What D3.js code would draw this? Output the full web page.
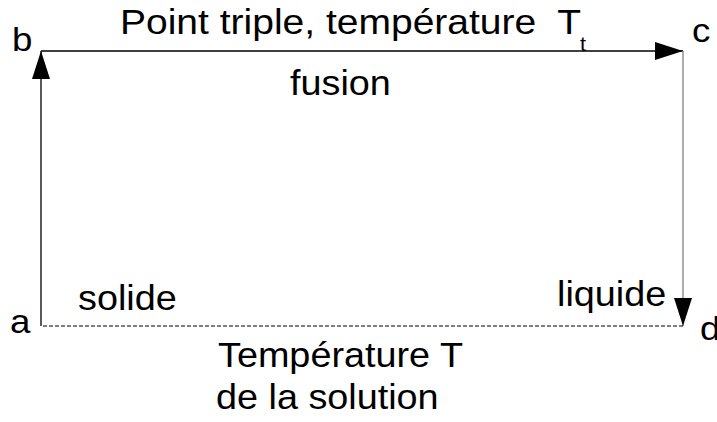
<!DOCTYPE html>
<html>
<head>
<meta charset="utf-8">
<script src="https://cdn.jsdelivr.net/npm/d3@7"></script>
<style>
  body { margin: 0; background: #fff; }
  svg { display: block; }
  svg text { font-family: "Liberation Sans", Arial, sans-serif; fill: #000; white-space: pre; }
</style>
</head>
<body>
<div id="chart"></div>
<script>
// Corners of the cycle (abstract coords: T axis, state axis)
const cornerNames = ['a', 'b', 'c', 'd'];
const cornerX = [0, 0, 1, 1];
const cornerY = [0, 1, 1, 0];

// Segments of the cycle, by corner index
const segFrom = [0, 1, 2, 3];
const segTo = [1, 2, 3, 0];
const segKind = ['arrow', 'arrow', 'arrow', 'dashed'];
const segColor = ['#000', '#000', '#808080', '#000'];

// Texts
const topLabel = 'Point triple, température  T';
const topSub = 't';
const middleLabel = 'fusion';
const leftLabel = 'solide';
const rightLabel = 'liquide';
const bottomLabel = ['Température T', 'de la solution'];

const width = 717, height = 422;

const svg = d3.select('#chart').append('svg')
    .attr('width', width)
    .attr('height', height);

const x = d3.scaleLinear().domain([0, 1]).range([41, 683]);
const y = d3.scaleLinear().domain([0, 1]).range([326, 51]);

// arrowhead
svg.append('defs').append('marker')
    .attr('id', 'head')
    .attr('viewBox', '0 0 28 18')
    .attr('refX', 28)
    .attr('refY', 9)
    .attr('markerWidth', 28)
    .attr('markerHeight', 18)
    .attr('markerUnits', 'userSpaceOnUse')
    .attr('orient', 'auto')
    .append('path')
    .attr('d', 'M0,0 L28,9 L0,18 Z')
    .attr('fill', '#000');

segFrom.forEach((f, i) => {
    const t = segTo[i];
    const line = svg.append('line')
        .attr('x1', x(cornerX[f]))
        .attr('y1', y(cornerY[f]))
        .attr('x2', x(cornerX[t]))
        .attr('y2', y(cornerY[t]))
        .attr('stroke', segColor[i])
        .attr('stroke-width', 1.3);
    if (segKind[i] === 'arrow') {
        line.attr('marker-end', 'url(#head)');
    } else {
        line.attr('stroke-dasharray', '4,2').attr('stroke-width', 1.2);
    }
});

// text slightly stretched horizontally, like the original drawing
function label(tx, ty, size, s, sx = 1.08) {
    return svg.append('text')
        .attr('transform', `translate(${tx},${ty}) scale(${sx},1)`)
        .attr('font-size', size)
        .text(s);
}

// corner letters
const letterPos = [[10, 333], [12, 51], [692, 42], [700, 340]];
cornerNames.forEach((n, i) => {
    label(letterPos[i][0], letterPos[i][1], 34, n);
});

label(120, 34, 35, topLabel, 1.115).attr('xml:space', 'preserve');
label(580, 51, 20, topSub);

label(290, 95, 35, middleLabel);
label(78, 310, 35, leftLabel);
label(557, 306, 35, rightLabel);

bottomLabel.forEach((s, i) => {
    label(218 - i * 2, 367 + i * 42, 35, s);
});
</script>
</body>
</html>
